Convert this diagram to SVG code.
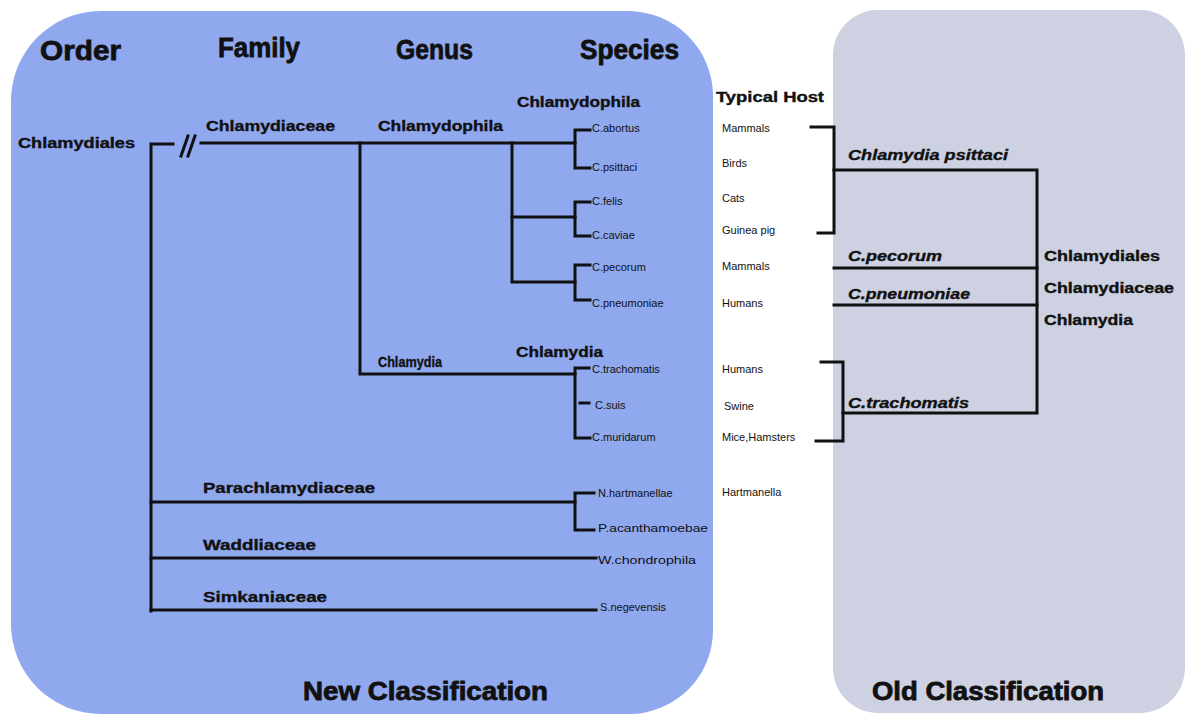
<svg xmlns="http://www.w3.org/2000/svg" width="1192" height="716" viewBox="0 0 1192 716">
<style>
text{font-family:"Liberation Sans",Arial,sans-serif;fill:#111;}
.h{font-size:28px;font-weight:bold;stroke:#111;stroke-width:0.8;}
.t{font-size:25px;font-weight:bold;stroke:#111;stroke-width:0.8;}
.b{font-size:14px;font-weight:bold;stroke:#111;stroke-width:0.35;}
.bi{font-size:14px;font-weight:bold;font-style:italic;stroke:#111;stroke-width:0.35;}
.s{font-size:11px;}
.ln{fill:none;stroke:#111;stroke-width:3;stroke-linecap:square;stroke-linejoin:miter;}
</style>
<rect width="1192" height="716" fill="#ffffff"/>
<g id="panel-new">
<path d="M101 11 H628 A85 85 0 0 1 713 96 V630 A84 84 0 0 1 629 714 H101 A90 90 0 0 1 11 624 V101 A90 90 0 0 1 101 11 Z" fill="#8fa8ee"/>
</g>
<g id="panel-old">
<rect x="833" y="10" width="352" height="703" rx="45" ry="45" fill="#cdd1e2"/>
</g>
<g id="headers">
<text class="h" x="40" y="60" textLength="81" lengthAdjust="spacingAndGlyphs">Order</text>
<text class="h" x="218" y="57" textLength="82" lengthAdjust="spacingAndGlyphs">Family</text>
<text class="h" x="396" y="59" textLength="77" lengthAdjust="spacingAndGlyphs">Genus</text>
<text class="h" x="580" y="59" textLength="99" lengthAdjust="spacingAndGlyphs">Species</text>
<text class="b" x="716" y="102" textLength="108" lengthAdjust="spacingAndGlyphs">Typical Host</text>
</g>
<g id="connectors">
<polyline class="ln" points="173,144 151,144 151,611"/>
<line class="ln" x1="181" y1="156" x2="188" y2="136"/>
<line class="ln" x1="188" y1="156" x2="195" y2="136"/>
<line class="ln" x1="201" y1="143" x2="575" y2="143"/>
<polyline class="ln" points="360,143 360,374 575,374"/>
<polyline class="ln" points="512,143 512,282 575,282"/>
<line class="ln" x1="512" y1="217" x2="575" y2="217"/>
<polyline class="ln" points="590,130 575,130 575,168 590,168"/>
<polyline class="ln" points="590,202 575,202 575,236 590,236"/>
<polyline class="ln" points="590,265 575,265 575,300 590,300"/>
<polyline class="ln" points="589,368 575,368 575,438 590,438"/>
<line class="ln" x1="580" y1="403" x2="589" y2="403"/>
<line class="ln" x1="151" y1="502" x2="575" y2="502"/>
<polyline class="ln" points="594,493 575,493 575,530 594,530"/>
<line class="ln" x1="151" y1="558" x2="596" y2="558"/>
<line class="ln" x1="151" y1="610" x2="596" y2="610"/>
<polyline class="ln" points="811,127 834,127 834,233 818,233"/>
<polyline class="ln" points="834,170 1037,170 1037,413 843,413"/>
<line class="ln" x1="834" y1="268" x2="1037" y2="268"/>
<line class="ln" x1="834" y1="305" x2="1037" y2="305"/>
<polyline class="ln" points="821,362 843,362 843,441 816,441"/>
</g>
<g id="order">
<text class="b" x="18" y="148" textLength="117" lengthAdjust="spacingAndGlyphs">Chlamydiales</text>
</g>
<g id="families">
<text class="b" x="206" y="131" textLength="129" lengthAdjust="spacingAndGlyphs">Chlamydiaceae</text>
<text class="b" x="203" y="493" textLength="172" lengthAdjust="spacingAndGlyphs">Parachlamydiaceae</text>
<text class="b" x="203" y="550" textLength="113" lengthAdjust="spacingAndGlyphs">Waddliaceae</text>
<text class="b" x="203" y="602" textLength="124" lengthAdjust="spacingAndGlyphs">Simkaniaceae</text>
</g>
<g id="genera">
<text class="b" x="378" y="131" textLength="125" lengthAdjust="spacingAndGlyphs">Chlamydophila</text>
<text class="b" x="378" y="367" textLength="64" lengthAdjust="spacingAndGlyphs">Chlamydia</text>
<text class="b" x="517" y="107" textLength="123" lengthAdjust="spacingAndGlyphs">Chlamydophila</text>
<text class="b" x="516" y="357" textLength="87" lengthAdjust="spacingAndGlyphs">Chlamydia</text>
</g>
<g id="species">
<text class="s" x="592" y="132">C.abortus</text>
<text class="s" x="592" y="171">C.psittaci</text>
<text class="s" x="592" y="205">C.felis</text>
<text class="s" x="592" y="239">C.caviae</text>
<text class="s" x="592" y="271">C.pecorum</text>
<text class="s" x="592" y="307">C.pneumoniae</text>
<text class="s" x="592" y="373">C.trachomatis</text>
<text class="s" x="595" y="409">C.suis</text>
<text class="s" x="592" y="441">C.muridarum</text>
<text class="s" x="598" y="497">N.hartmanellae</text>
<text class="s" x="598" y="532" textLength="110" lengthAdjust="spacingAndGlyphs">P.acanthamoebae</text>
<text class="s" x="598" y="564" textLength="98" lengthAdjust="spacingAndGlyphs">W.chondrophila</text>
<text class="s" x="600" y="611">S.negevensis</text>
</g>
<g id="hosts">
<text class="s" x="722" y="132">Mammals</text>
<text class="s" x="722" y="167">Birds</text>
<text class="s" x="722" y="202">Cats</text>
<text class="s" x="722" y="234">Guinea pig</text>
<text class="s" x="722" y="270">Mammals</text>
<text class="s" x="722" y="307">Humans</text>
<text class="s" x="722" y="373">Humans</text>
<text class="s" x="724" y="410">Swine</text>
<text class="s" x="722" y="441">Mice,Hamsters</text>
<text class="s" x="722" y="496">Hartmanella</text>
</g>
<g id="old-classification">
<text class="bi" x="848" y="160" textLength="160" lengthAdjust="spacingAndGlyphs">Chlamydia psittaci</text>
<text class="bi" x="848" y="261" textLength="94" lengthAdjust="spacingAndGlyphs">C.pecorum</text>
<text class="bi" x="848" y="299" textLength="122" lengthAdjust="spacingAndGlyphs">C.pneumoniae</text>
<text class="bi" x="848" y="408" textLength="121" lengthAdjust="spacingAndGlyphs">C.trachomatis</text>
<text class="b" x="1044" y="261" textLength="116" lengthAdjust="spacingAndGlyphs">Chlamydiales</text>
<text class="b" x="1044" y="293" textLength="130" lengthAdjust="spacingAndGlyphs">Chlamydiaceae</text>
<text class="b" x="1044" y="325" textLength="89" lengthAdjust="spacingAndGlyphs">Chlamydia</text>
</g>
<g id="titles">
<text class="t" x="303" y="700" textLength="245" lengthAdjust="spacingAndGlyphs">New Classification</text>
<text class="t" x="872" y="700" textLength="232" lengthAdjust="spacingAndGlyphs">Old Classification</text>
</g>
</svg>
